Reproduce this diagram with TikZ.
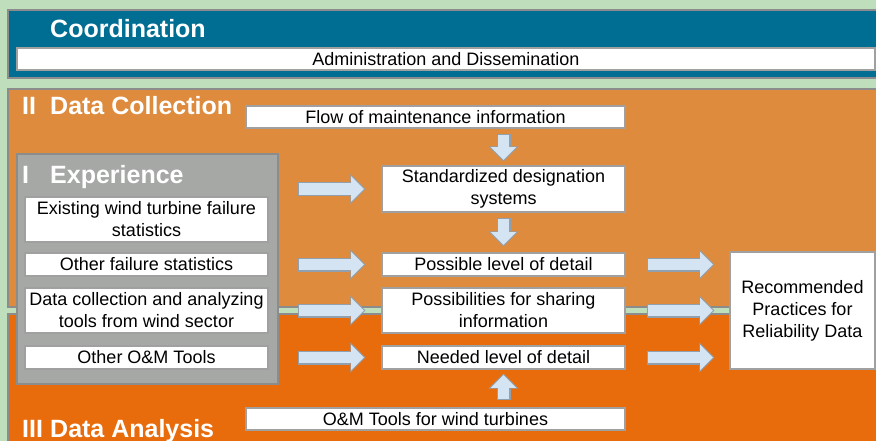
\documentclass[tikz,border=0pt]{standalone}
\usepackage{fontspec}
\setmainfont{Liberation Sans}
\usetikzlibrary{arrows.meta,calc}
\definecolor{bggreen}{RGB}{190,222,188}
\definecolor{coordblue}{RGB}{0,110,147}
\definecolor{collorange}{RGB}{222,139,62}
\definecolor{anaorange}{RGB}{233,108,12}
\definecolor{expgray}{RGB}{166,168,166}
\definecolor{framegray}{RGB}{140,140,140}
\definecolor{boxgray}{RGB}{160,160,160}
\definecolor{arrowfill}{RGB}{213,228,242}
\definecolor{arrowline}{RGB}{145,160,175}
\begin{document}
\begin{tikzpicture}[x=1pt,y=-1pt,
    box/.style={draw=boxgray, line width=1.2pt, fill=white, inner sep=0pt, align=center, font=\fontsize{18}{22}\selectfont},
    title/.style={anchor=base west, inner sep=0pt, text=white, font=\fontsize{25}{29}\selectfont\bfseries},
    barrow/.style={draw=arrowline, line width=14pt, -{Triangle[width=30pt,length=15pt,line width=0pt]},
        postaction={draw=arrowfill, line width=11.6pt, -{Triangle[width=25.5pt,length=12.8pt,line width=0pt]}, shorten <=1.2pt, shorten >=1.5pt}}]
    \useasboundingbox (0,0) rectangle (876,441);
    \clip (0,0) rectangle (876,441);
    \fill[bggreen] (0,0) rectangle (876,441);
    \draw[framegray, line width=1.5pt, fill=coordblue] (8,10) rectangle (890,78);
    \draw[framegray, line width=1.5pt, fill=collorange] (8,89) rectangle (890,307);
    \draw[framegray, line width=1.5pt, fill=anaorange] (8,314) rectangle (890,460);
    \node[draw=framegray, line width=1.5pt, fill=expgray, minimum width=261pt, minimum height=230pt] (exp) at (147.5,269) {};

    \node[title] (coord) at (50,38) {Coordination};
    \node[title] (collnum) at (22,115) {II};
    \node[title] (coll) at (50,115) {Data Collection};
    \node[title] (expnum) at (22,183) {I};
    \node[title] (exptitle) at (50,183) {Experience};
    \node[title] (ananum) at (22,437) {III};
    \node[title] (ana) at (50,437) {Data Analysis};

    \node[box, minimum width=858pt, minimum height=22pt] (admin) at (446,59) {Administration and Dissemination};
    \node[box, minimum width=379pt, minimum height=22pt] (flow) at (435.5,117) {Flow of maintenance information};
    \node[box, minimum width=243pt, minimum height=45pt] (exist) at (146.5,219.5) {Existing wind turbine failure\\statistics};
    \node[box, minimum width=243pt, minimum height=23pt] (otherfail) at (146.5,264.5) {Other failure statistics};
    \node[box, minimum width=243pt, minimum height=45pt] (datacoll) at (146.5,310.5) {Data collection and analyzing\\tools from wind sector};
    \node[box, minimum width=243pt, minimum height=23pt] (otherom) at (146.5,357.5) {Other O\&M Tools};
    \node[box, minimum width=243pt, minimum height=46pt] (std) at (503.5,189) {Standardized designation\\systems};
    \node[box, minimum width=243pt, minimum height=23pt] (poss) at (503.5,264.5) {Possible level of detail};
    \node[box, minimum width=243pt, minimum height=45pt] (share) at (503.5,310.5) {Possibilities for sharing\\information};
    \node[box, minimum width=243pt, minimum height=23pt] (need) at (503.5,357.5) {Needed level of detail};
    \node[box, minimum width=379pt, minimum height=22pt] (omtools) at (435.5,419) {O\&M Tools for wind turbines};
    \node[box, minimum width=145pt, minimum height=117pt] (rec) at (802.5,310.5) {Recommended\\Practices for\\Reliability Data};

    \draw[barrow] ($(exp.east |- std.west)+(19,0)$) -- ($(std.west)+(-16,0)$);
    \draw[barrow] ($(otherfail.east)+(29,0)$) -- ($(poss.west)+(-16,0)$);
    \draw[barrow] ($(datacoll.east)+(29,0)$) -- ($(share.west)+(-16,0)$);
    \draw[barrow] ($(otherom.east)+(29,0)$) -- ($(need.west)+(-16,0)$);
    \draw[barrow] ($(poss.east)+(21,0)$) -- ($(rec.west |- poss.east)+(-15,0)$);
    \draw[barrow] ($(share.east)+(21,0)$) -- ($(rec.west)+(-15,0)$);
    \draw[barrow] ($(need.east)+(21,0)$) -- ($(rec.west |- need.east)+(-15,0)$);
    \draw[barrow] ($(flow.south -| std.north)+(0,5)$) -- ($(std.north)+(0,-4)$);
    \draw[barrow] ($(std.south)+(0,5)$) -- ($(poss.north)+(0,-6)$);
    \draw[barrow] ($(omtools.north -| need.south)+(0,-7)$) -- ($(need.south)+(0,4)$);
\end{tikzpicture}
\end{document}
